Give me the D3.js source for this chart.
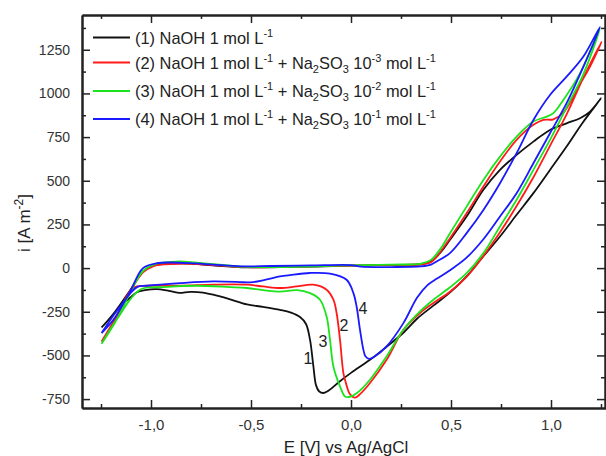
<!DOCTYPE html>
<html>
<head>
<meta charset="UTF-8">
<title>Cyclic voltammograms</title>
<script src="https://d3js.org/d3.v7.min.js"></script>
<style>
  body { margin: 0; background: #fff; }
  svg { display: block; font-family: "Liberation Sans", Arial, sans-serif; }
  .tick text { fill: #333; }
</style>
</head>
<body>
<div id="chart"></div>
<script>
// curves: [E (V vs Ag/AgCl), i (A m-2)] in scan order
var curve1 = [[-1.247,-340],[-1.19,-265],[-1.105,-128],[-1.04,-19],[-0.99,15],[-0.90,28],[-0.80,25],[-0.69,15],[-0.52,4],[-0.35,6],[-0.19,9],[0.0,14],[0.2,18],[0.35,22],[0.40,38],[0.45,92],[0.495,162],[0.578,295],[0.662,448],[0.745,562],[0.828,648],[0.912,724],[0.995,791],[1.078,829],[1.145,858],[1.195,896],[1.25,972],
  [1.16,835],[1.078,696],[0.995,562],[0.912,429],[0.828,305],[0.745,181],[0.66,65],[0.578,-48],[0.50,-135],[0.412,-215],[0.33,-290],[0.262,-370],[0.178,-450],[0.095,-525],[0.0,-600],[-0.06,-652],[-0.11,-700],[-0.138,-715],[-0.16,-705],[-0.175,-670],[-0.188,-563],[-0.205,-410],[-0.225,-320],[-0.255,-280],[-0.30,-255],[-0.355,-239],[-0.44,-222],[-0.52,-208],[-0.60,-180],[-0.655,-162],[-0.74,-140],[-0.805,-136],[-0.86,-142],[-0.92,-128],[-0.97,-120],[-1.03,-126],[-1.07,-138],[-1.12,-185],[-1.16,-230],[-1.247,-340]];

var curve2 = [[-1.247,-420],[-1.17,-280],[-1.105,-135],[-1.04,-25],[-0.99,10],[-0.93,22],[-0.85,25],[-0.75,22],[-0.65,14],[-0.52,5],[-0.35,7],[-0.19,10],[0.0,14],[0.2,18],[0.35,22],[0.40,34],[0.45,98],[0.495,171],[0.578,314],[0.662,467],[0.745,610],[0.828,734],[0.912,820],[0.962,848],[1.012,852],[1.062,890],[1.128,1020],[1.195,1153],[1.253,1296],
  [1.162,1090],[1.078,880],[0.995,700],[0.912,520],[0.828,355],[0.745,205],[0.662,70],[0.578,-50],[0.495,-135],[0.412,-200],[0.345,-257],[0.262,-353],[0.178,-525],[0.095,-658],[0.045,-722],[0.02,-742],[-0.005,-722],[-0.025,-660],[-0.038,-601],[-0.055,-410],[-0.072,-257],[-0.088,-181],[-0.122,-124],[-0.188,-95],[-0.272,-105],[-0.355,-114],[-0.44,-105],[-0.52,-95],[-0.69,-95],[-0.855,-101],[-1.02,-101],[-1.09,-114],[-1.172,-277],[-1.247,-420]];

var curve3 = [[-1.247,-433],[-1.172,-296],[-1.105,-143],[-1.05,-30],[-1.02,0],[-0.97,25],[-0.90,35],[-0.855,38],[-0.78,32],[-0.69,23],[-0.55,8],[-0.4,5],[-0.2,9],[0.0,16],[0.2,20],[0.35,26],[0.40,47],[0.45,115],[0.495,200],[0.578,352],[0.662,505],[0.745,638],[0.828,753],[0.912,839],[0.978,867],[1.012,887],[1.062,963],[1.145,1115],[1.245,1373],
  [1.162,1110],[1.078,920],[0.995,734],[0.912,562],[0.828,391],[0.745,238],[0.662,86],[0.578,-29],[0.495,-110],[0.412,-181],[0.345,-248],[0.262,-353],[0.178,-506],[0.095,-639],[0.03,-715],[-0.01,-738],[-0.03,-735],[-0.055,-677],[-0.088,-563],[-0.105,-410],[-0.122,-277],[-0.155,-181],[-0.205,-143],[-0.27,-126],[-0.355,-135],[-0.44,-126],[-0.52,-114],[-0.605,-109],[-0.772,-101],[-0.938,-109],[-1.055,-124],[-1.172,-296],[-1.247,-433]];

var curve4 = [[-1.247,-372],[-1.188,-296],[-1.105,-135],[-1.04,0],[-0.97,28],[-0.90,32],[-0.80,28],[-0.69,20],[-0.55,10],[-0.4,12],[-0.2,15],[0.0,17],[0.05,8],[0.2,6],[0.35,10],[0.40,20],[0.428,38],[0.495,86],[0.578,200],[0.662,333],[0.745,486],[0.828,658],[0.912,848],[0.995,991],[1.078,1096],[1.162,1211],[1.245,1380],
  [1.162,1153],[1.078,944],[0.995,772],[0.912,600],[0.828,429],[0.745,295],[0.662,165],[0.578,60],[0.495,-12],[0.43,-60],[0.38,-100],[0.33,-170],[0.262,-315],[0.178,-448],[0.12,-505],[0.092,-520],[0.072,-505],[0.062,-467],[0.045,-353],[0.028,-220],[0.012,-143],[-0.022,-67],[-0.105,-32],[-0.205,-28],[-0.305,-40],[-0.355,-48],[-0.44,-70],[-0.488,-80],[-0.52,-82],[-0.555,-80],[-0.69,-76],[-0.855,-86],[-1.02,-101],[-1.07,-109],[-1.155,-220],[-1.247,-372]];

var curves = [curve1, curve2, curve3, curve4];
var colors = ["#111111", "#ff1a1a", "#1de31d", "#1a1aff"];
var curveNames = ["1", "2", "3", "4"];
// where the number labels sit, in data units
var labelE = [-0.215, -0.035, -0.14, 0.06];
var labelI = [-520, -330, -421, -233];
var sulfite = [null, "-3", "-2", "-1"];

var xMajor = [-1.0, -0.5, 0.0, 0.5, 1.0];
var xMinor = [-1.25, -0.75, -0.25, 0.25, 0.75, 1.25];
var yMajor = [-750, -500, -250, 0, 250, 500, 750, 1000, 1250];
var yMinor = [-625, -375, -125, 125, 375, 625, 875, 1125, 1375];

var W = 606, H = 456;
var plot = {left: 82, right: 606, top: 15, bottom: 408};

var svg = d3.select("#chart").append("svg")
  .attr("width", W).attr("height", H);

var x = d3.scaleLinear().domain([-1.345, 1.275]).range([plot.left, plot.right]);
var y = d3.scaleLinear().domain([-801, 1449]).range([plot.bottom, plot.top]);

svg.append("defs").append("clipPath").attr("id", "clip")
  .append("rect")
  .attr("x", plot.left).attr("y", plot.top)
  .attr("width", plot.right - plot.left).attr("height", plot.bottom - plot.top);

var fmtX = function(d) { return d3.format(".1f")(d).replace(".", ",").replace("−", "-"); };
var fmtY = function(d) { return String(d); };

function styleAxis(g) {
  g.select(".domain").attr("stroke", "#222").attr("stroke-width", 2);
  g.selectAll(".tick line").attr("stroke", "#222").attr("stroke-width", 1.5);
}

// bottom
svg.append("g").attr("transform", "translate(0," + plot.bottom + ")")
  .call(d3.axisBottom(x).tickValues(xMajor).tickSizeInner(-8).tickSizeOuter(0).tickPadding(11).tickFormat(fmtX))
  .call(styleAxis)
  .selectAll("text").attr("font-size", 15);
svg.append("g").attr("transform", "translate(0," + plot.bottom + ")")
  .call(d3.axisBottom(x).tickValues(xMinor).tickSizeInner(-4).tickSizeOuter(0).tickFormat(""))
  .call(styleAxis);
// top
svg.append("g").attr("transform", "translate(0," + plot.top + ")")
  .call(d3.axisTop(x).tickValues(xMajor).tickSizeInner(-8).tickSizeOuter(0).tickFormat(""))
  .call(styleAxis);
svg.append("g").attr("transform", "translate(0," + plot.top + ")")
  .call(d3.axisTop(x).tickValues(xMinor).tickSizeInner(-4).tickSizeOuter(0).tickFormat(""))
  .call(styleAxis);
// left
svg.append("g").attr("transform", "translate(" + plot.left + ",0)")
  .call(d3.axisLeft(y).tickValues(yMajor).tickSizeInner(-8).tickSizeOuter(0).tickPadding(12).tickFormat(fmtY))
  .call(styleAxis)
  .selectAll("text").attr("font-size", 14);
svg.append("g").attr("transform", "translate(" + plot.left + ",0)")
  .call(d3.axisLeft(y).tickValues(yMinor).tickSizeInner(-4).tickSizeOuter(0).tickFormat(""))
  .call(styleAxis);
// right
svg.append("g").attr("transform", "translate(" + (plot.right - 1) + ",0)")
  .call(d3.axisRight(y).tickValues(yMajor).tickSizeInner(-8).tickSizeOuter(0).tickFormat(""))
  .call(styleAxis);
svg.append("g").attr("transform", "translate(" + (plot.right - 1) + ",0)")
  .call(d3.axisRight(y).tickValues(yMinor).tickSizeInner(-4).tickSizeOuter(0).tickFormat(""))
  .call(styleAxis);

// curves
var line = d3.line()
  .x(function(d) { return x(d[0]); })
  .y(function(d) { return y(d[1]); })
  .curve(d3.curveCatmullRom.alpha(0.5));

svg.append("g").attr("clip-path", "url(#clip)")
  .selectAll("path.cv")
  .data(curves)
  .enter().append("path")
  .attr("class", "cv")
  .attr("fill", "none")
  .attr("stroke", function(d, k) { return colors[k]; })
  .attr("stroke-width", 1.8)
  .attr("stroke-linejoin", "round")
  .attr("d", line);

// curve numbers
svg.selectAll("text.num")
  .data(curveNames)
  .enter().append("text")
  .attr("class", "num")
  .attr("x", function(d, k) { return x(labelE[k]); })
  .attr("y", function(d, k) { return y(labelI[k]); })
  .attr("text-anchor", "middle")
  .attr("dominant-baseline", "central")
  .attr("font-size", 16)
  .attr("fill", "#222")
  .text(function(d) { return d; });

// legend
var legendY = [37.5, 62.5, 91, 119];
var leg = svg.append("g").attr("font-size", 16.4).attr("fill", "#222");
curveNames.forEach(function(name, k) {
  var ly = legendY[k];
  leg.append("line")
    .attr("x1", 93).attr("x2", 130).attr("y1", ly).attr("y2", ly)
    .attr("stroke", colors[k]).attr("stroke-width", 2);
  var t = leg.append("text").attr("x", 135).attr("y", ly + 6);
  t.append("tspan").text("(" + name + ") NaOH 1 mol L");
  t.append("tspan").attr("font-size", 11).attr("dy", -7).text("-1");
  if (sulfite[k]) {
    t.append("tspan").attr("dy", 7).text(" + Na");
    t.append("tspan").attr("font-size", 11).attr("dy", 4).text("2");
    t.append("tspan").attr("dy", -4).text("SO");
    t.append("tspan").attr("font-size", 11).attr("dy", 4).text("3");
    t.append("tspan").attr("dy", -4).text(" 10");
    t.append("tspan").attr("font-size", 11).attr("dy", -7).text(sulfite[k]);
    t.append("tspan").attr("dy", 7).text(" mol L");
    t.append("tspan").attr("font-size", 11).attr("dy", -7).text("-1");
  }
});

// axis titles
svg.append("text")
  .attr("x", 346).attr("y", 453)
  .attr("text-anchor", "middle")
  .attr("font-size", 17).attr("fill", "#222")
  .text("E [V] vs Ag/AgCl");

var yt = svg.append("text")
  .attr("transform", "translate(30,223) rotate(-90)")
  .attr("text-anchor", "middle")
  .attr("font-size", 17).attr("fill", "#222");
yt.append("tspan").text("i [A m");
yt.append("tspan").attr("font-size", 12).attr("dy", -7).text("-2");
yt.append("tspan").attr("dy", 7).text("]");
</script>
</body>
</html>
